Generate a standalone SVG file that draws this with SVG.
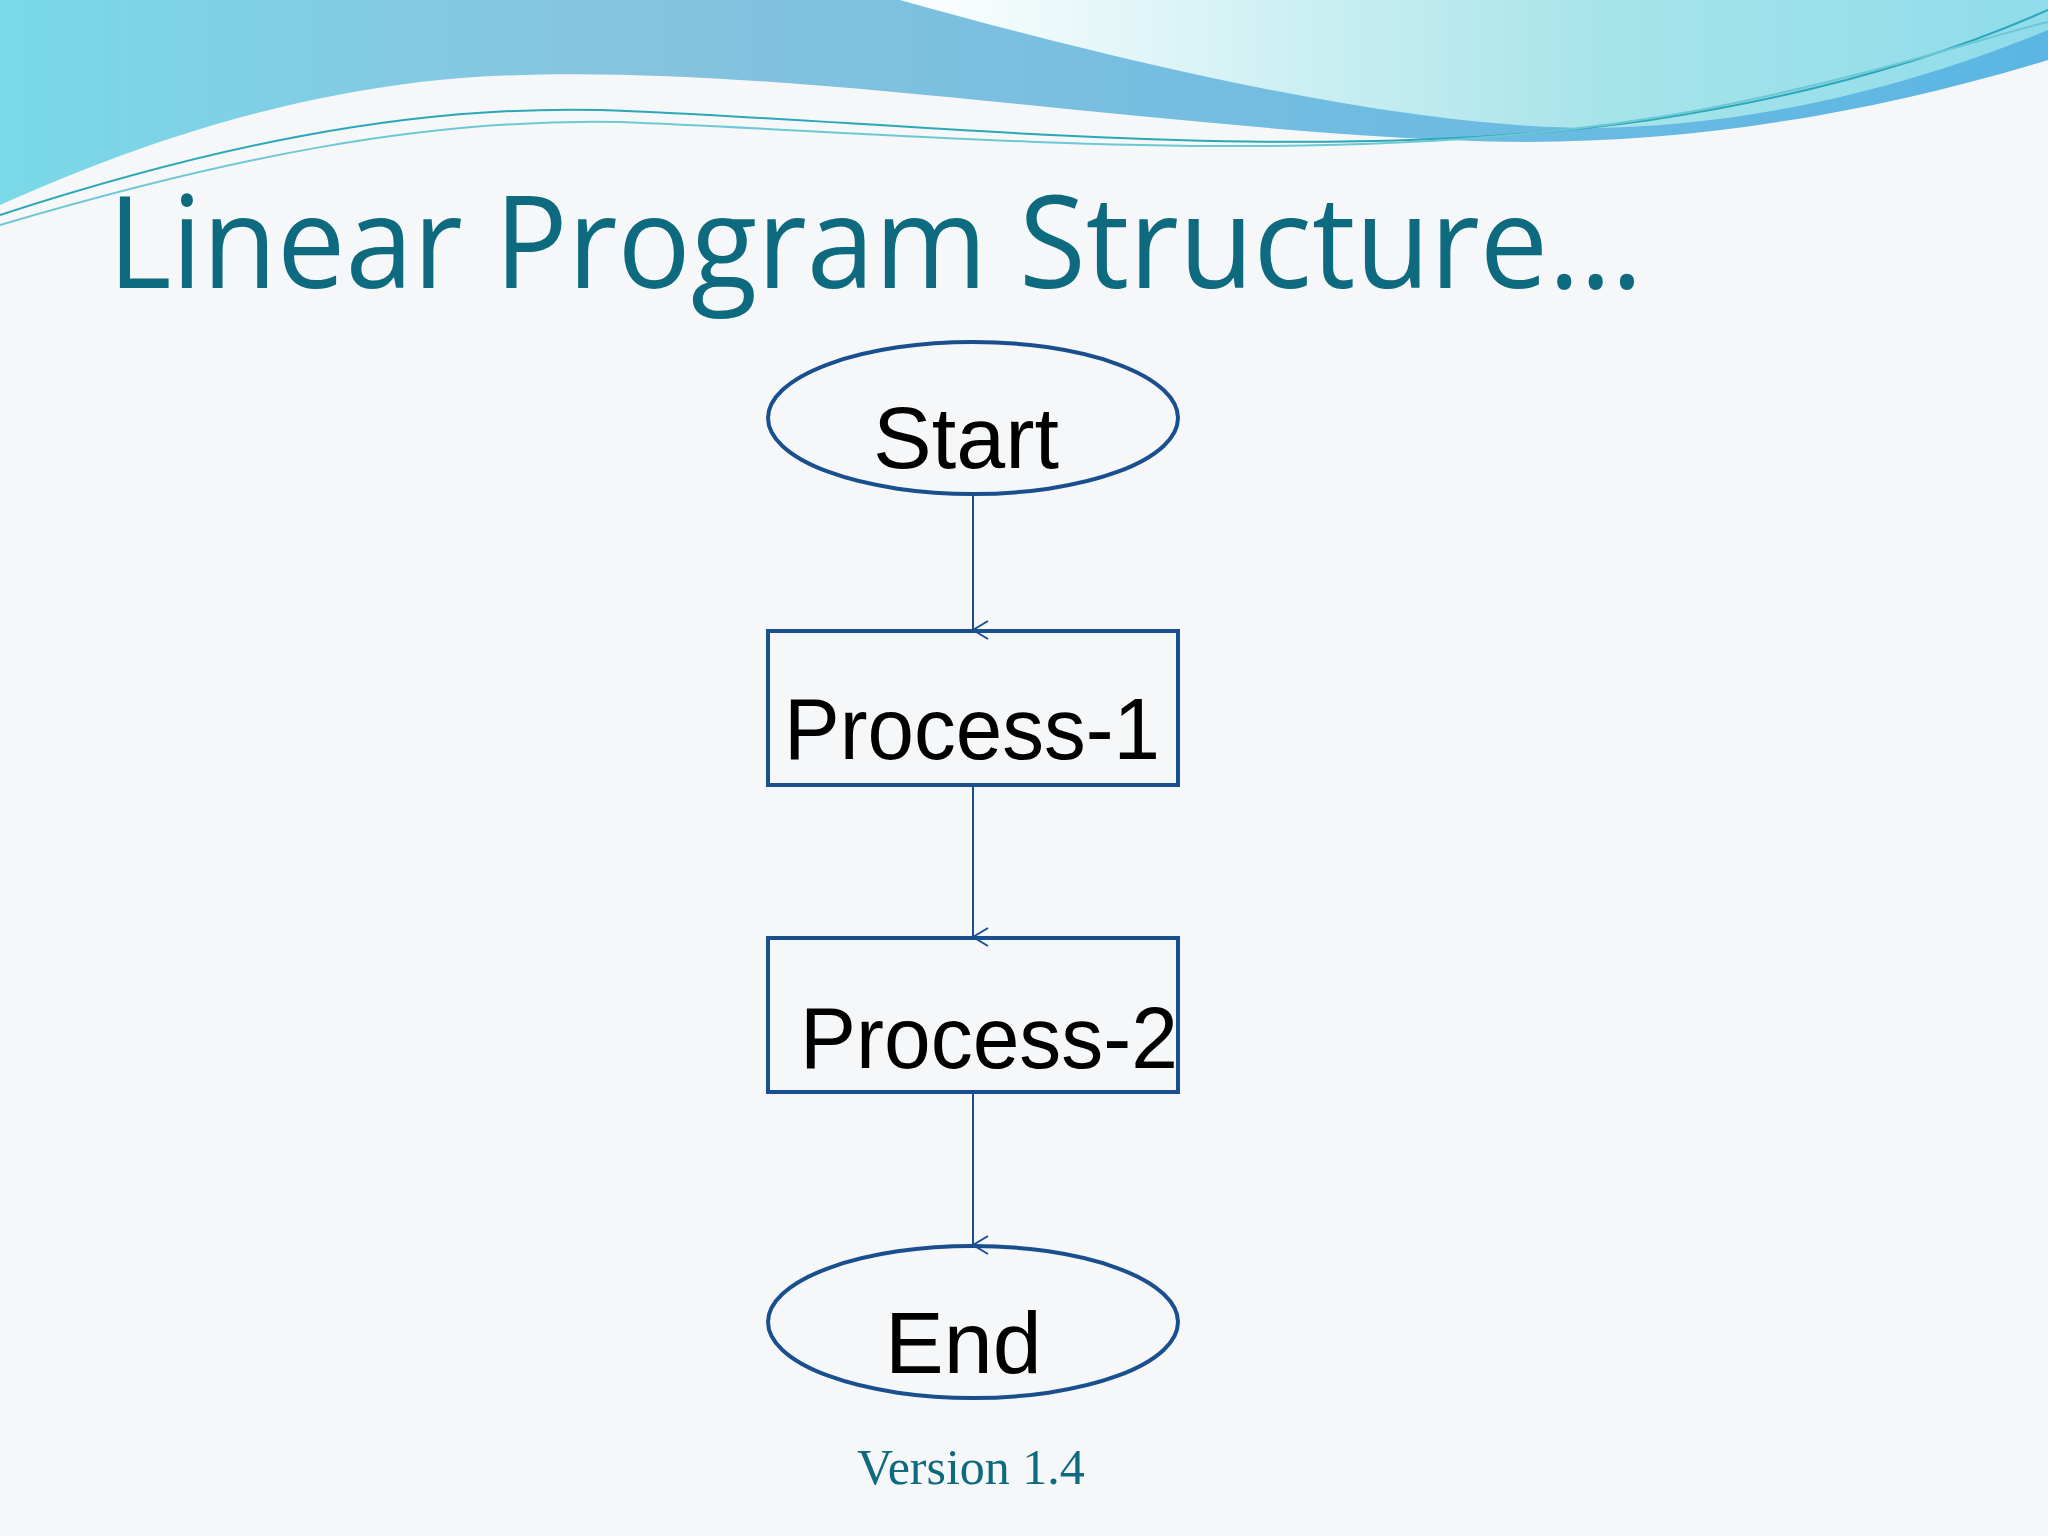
<svg xmlns="http://www.w3.org/2000/svg" width="2048" height="1536" viewBox="0 0 2048 1536">
<defs>
<linearGradient id="g1" x1="0" y1="0" x2="1" y2="0"><stop offset="0" stop-color="#7ad9e8"/><stop offset="0.3" stop-color="#86c3df"/><stop offset="1" stop-color="#5bb6e3"/></linearGradient>
<linearGradient id="g2" x1="0" y1="0" x2="1" y2="0"><stop offset="0" stop-color="#ffffff"/><stop offset="0.6" stop-color="#a8e4ea"/><stop offset="1" stop-color="#8fdcea"/></linearGradient>
<marker id="ah" viewBox="0 0 20 20" refX="10" refY="19" markerWidth="20" markerHeight="20" markerUnits="userSpaceOnUse" orient="auto-start-reverse"><path d="M1,4 L10,19 L19,4" fill="none" stroke="#1a4f8f" stroke-width="2"/></marker>
<style>
.n{fill:none;stroke:#1a4f8f;stroke-width:4}
.t{font-family:"Liberation Sans",Arial,sans-serif;font-size:88px;fill:#000}
.c{stroke:#1a4f8f;stroke-width:2;fill:none}
</style>
</defs>
<rect width="2048" height="1536" fill="#f6f7f8"/>
<path d="M0,0 H2048 V60 C1850,120 1650,150 1450,140 C1100,125 700,50 420,82 C230,105 80,170 0,205 Z" fill="url(#g1)"/>
<path d="M900,0 C1150,70 1400,125 1580,128 C1780,128 1950,70 2048,30 V0 Z" fill="url(#g2)"/>
<path d="M0,215 C200,150 400,105 600,110 C900,120 1300,170 1650,120 C1850,90 1980,40 2048,10" fill="none" stroke="#2aa7b8" stroke-width="2"/>
<path d="M0,225 C220,160 420,118 620,122 C950,135 1350,175 1700,110 C1880,75 1990,35 2048,22" fill="none" stroke="#6cc7d6" stroke-width="2"/>
<text x="108" y="288" font-family="'Open Sans','Noto Sans',sans-serif" font-size="128" fill="#0e6a7e" textLength="1535" lengthAdjust="spacingAndGlyphs">Linear Program Structure…</text>
<g id="connectors">
<line class="c" x1="973" y1="494" x2="973" y2="630" marker-end="url(#ah)"/>
<line class="c" x1="973" y1="785" x2="973" y2="937" marker-end="url(#ah)"/>
<line class="c" x1="973" y1="1092" x2="973" y2="1245" marker-end="url(#ah)"/>
</g>
<g id="start"><ellipse class="n" cx="973" cy="418" rx="205" ry="76"/><text class="t" x="966" y="468" text-anchor="middle">Start</text></g>
<g id="process1"><rect class="n" x="768" y="631" width="410" height="154"/><text class="t" x="784" y="759" textLength="376" lengthAdjust="spacingAndGlyphs">Process-1</text></g>
<g id="process2"><rect class="n" x="768" y="938" width="410" height="154"/><text class="t" x="800" y="1068" textLength="378" lengthAdjust="spacingAndGlyphs">Process-2</text></g>
<g id="end"><ellipse class="n" cx="973" cy="1322" rx="205" ry="76"/><text class="t" x="885" y="1373">End</text></g>
<text x="971" y="1484" text-anchor="middle" font-family="'Liberation Serif',serif" font-size="50" fill="#0e6a7e">Version 1.4</text>
</svg>
